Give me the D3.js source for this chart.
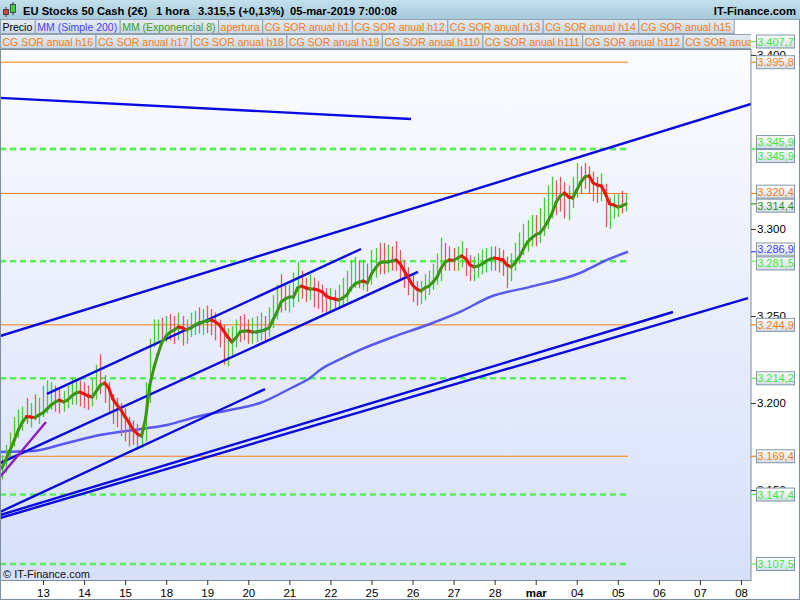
<!DOCTYPE html>
<html><head><meta charset="utf-8">
<script src="https://cdn.jsdelivr.net/npm/d3@7"></script>
<style>
body{margin:0;background:#fff;}
svg text{font-family:"Liberation Sans",Arial,sans-serif;}
</style>
</head><body>
<svg id="c" width="800" height="600"></svg>
<script>
// ---------------- DATA ----------------
const dayLabels = ["13","14","15","18","19","20","21","22","25","26","27","28","mar","04","05","06","07","08"];
const boldDayLabels = ["mar"];
const barStartDay = -1, barStepDay = 0.1;
const emaValues = [3162.6,3167.8,3173.0,3178.7,3184.5,3189.1,3192.2,3191.9,3191.6,3193.1,
3194.3,3196.6,3198.9,3200.6,3201.7,3200.6,3201.7,3204.0,3205.7,3206.3,
3205.2,3204.0,3203.4,3206.9,3210.3,3211.5,3208.6,3202.3,3198.9,3196.0,
3192.0,3188.5,3184.5,3182.2,3181.0,3191.4,3210.3,3220.1,3228.2,3235.1,
3238.5,3240.8,3242.0,3243.7,3243.1,3242.0,3243.1,3244.8,3246.0,3246.6,
3247.1,3247.7,3246.6,3244.8,3241.4,3237.9,3235.1,3237.4,3240.8,3241.4,
3241.4,3240.8,3240.8,3241.4,3242.0,3243.1,3247.7,3252.3,3258.0,3259.8,
3260.9,3260.9,3266.1,3267.2,3266.1,3265.5,3265.5,3264.9,3263.8,3261.5,
3260.3,3259.8,3259.2,3260.3,3262.1,3266.1,3268.4,3269.5,3270.1,3269.0,
3274.1,3277.6,3280.5,3281.0,3281.0,3281.6,3282.2,3279.9,3275.9,3271.8,
3267.8,3265.5,3264.4,3266.1,3267.2,3269.5,3272.4,3277.6,3281.0,3282.2,
3282.0,3283.3,3284.5,3282.8,3279.3,3278.2,3278.7,3279.9,3281.6,3282.8,
3283.3,3282.8,3282.2,3279.3,3278.2,3280.5,3283.9,3288.5,3292.5,3294.8,
3296.6,3297.7,3300.6,3304.6,3309.2,3315.5,3319.0,3320.7,3318.4,3317.8,
3322.4,3327.0,3329.9,3330.5,3326.4,3325.3,3324.7,3320.1,3314.4,3313.8,
3312.6,3313.2,3314.4];
const highs = [3170,3176,3183,3192,3196,3198,3203,3200,3205,3203,
3210,3213,3212,3210,3208,3207,3210,3214,3214,3213,
3212,3210,3214,3222,3228,3216,3212,3205,3203,3200,
3197,3192,3190,3188,3186,3212,3237,3248,3248,3249,
3250,3251,3250,3252,3250,3248,3252,3253,3255,3254,
3256,3254,3252,3248,3245,3243,3244,3248,3250,3251,
3248,3249,3250,3252,3250,3255,3262,3268,3274,3268,
3268,3275,3281,3276,3272,3274,3272,3270,3268,3266,
3266,3265,3268,3272,3276,3282,3284,3282,3282,3280,
3288,3289,3292,3292,3291,3290,3293,3288,3282,3278,
3274,3270,3270,3274,3276,3280,3286,3295,3292,3290,
3289,3290,3293,3289,3285,3284,3286,3288,3289,3290,
3290,3289,3288,3284,3286,3292,3298,3303,3305,3308,
3308,3312,3318,3325,3330,3328,3330,3327,3325,3330,
3338,3336,3338,3336,3333,3330,3332,3326,3318,3320,
3320,3322,3320];
const lows = [3156,3160,3168,3175,3180,3184,3188,3186,3190,3188,
3192,3194,3196,3195,3194,3195,3197,3199,3199,3198,
3197,3196,3198,3202,3205,3200,3195,3188,3186,3181,
3178,3175,3176,3173,3174,3178,3200,3232,3236,3236,
3235,3236,3234,3236,3233,3234,3238,3239,3240,3239,
3240,3239,3236,3232,3222,3221,3226,3232,3235,3236,
3234,3234,3235,3236,3235,3238,3243,3248,3252,3253,
3252,3255,3258,3260,3258,3259,3255,3254,3252,3252,
3253,3253,3254,3256,3258,3264,3266,3266,3265,3264,
3268,3272,3274,3274,3275,3276,3276,3270,3266,3262,
3258,3256,3257,3259,3262,3265,3268,3270,3276,3276,
3276,3276,3278,3273,3270,3270,3272,3274,3275,3276,
3276,3275,3273,3266,3270,3276,3280,3285,3287,3290,
3290,3292,3296,3300,3306,3308,3310,3306,3305,3312,
3318,3320,3323,3320,3316,3315,3316,3301,3300,3306,
3307,3309,3310];
const closes = [3166,3172,3180,3188,3190,3194,3193,3195,3193,3196,
3200,3203,3205,3202,3199,3203,3207,3208,3208,3204,
3203,3202,3212,3215,3212,3203,3198,3192,3190,3187,
3184,3180,3179,3178,3184,3208,3232,3244,3245,3241,
3246,3240,3238,3247,3238,3240,3248,3250,3246,3249,
3244,3243,3238,3235,3230,3234,3240,3245,3243,3240,
3238,3242,3243,3245,3244,3250,3258,3264,3262,3257,
3258,3270,3272,3265,3264,3268,3262,3260,3258,3257,
3260,3258,3264,3268,3272,3275,3278,3271,3272,3268,
3283,3284,3283,3281,3283,3282,3280,3272,3268,3265,
3262,3260,3266,3270,3272,3276,3282,3288,3285,3284,
3281,3285,3287,3277,3274,3277,3280,3283,3284,3284,
3282,3281,3278,3272,3282,3288,3293,3298,3300,3302,
3300,3306,3312,3318,3325,3324,3320,3312,3316,3326,
3335,3332,3330,3325,3322,3320,3326,3305,3312,3314,
3316,3315,3315.5];
const smaDays = [-1.047,-0.244,0.585,1.388,2.192,3.020,3.824,4.554,5.285,6.089,6.503,6.746,7.306,7.720,8.524,9.352,10.156,10.886,11.861,13.078,13.736,14.247];
const smaValues = [3171.8,3172.4,3177.0,3181.6,3184.5,3187.4,3192.5,3196.0,3200.0,3209.2,3214.4,3219.0,3225.9,3230.5,3237.9,3244.8,3252.3,3260.9,3266.7,3274.7,3282.2,3286.9];
// trend lines: [startDay, startPrice, endDay, endPrice]
const blueTrendLines = [
  [-1.047,3375.3, 8.962,3363.2],
  [-1.047,3238.5,17.243,3371.8],
  [0.097,3205.2, 7.745,3288.5],
  [-1.047,3165.5, 9.133,3275.3],
  [-1.047,3137.4, 5.407,3208.0],
  [-1.047,3135.6,15.343,3252.3],
  [-1.047,3133.9,17.170,3260.3]
];
const purpleTrendLines = [[-1.047,3157.5, 0.073,3189.1]];
const greenLevels = [3407.7,3345.9,3345.9,3281.5,3214.2,3147.4,3107.5];
const orangeLevels = [3395.8,3320.4,3244.9,3169.4];
const priceTicks = [3150,3200,3250,3300,3400];
const legendRow1 = ["Precio","MM (Simple 200)","MM (Exponencial 8)","apertura","CG SOR anual h1","CG SOR anual h12","CG SOR anual h13","CG SOR anual h14","CG SOR anual h15"];
const legendRow2 = ["CG SOR anual h16","CG SOR anual h17","CG SOR anual h18","CG SOR anual h19","CG SOR anual h110","CG SOR anual h111","CG SOR anual h112","CG SOR anual h113"];
const titleParts = ["EU Stocks 50 Cash (2€)","1 hora","3.315,5 (+0,13%)","05-mar-2019 7:00:08"];
const siteName = "IT-Finance.com";
const copyright = "© IT-Finance.com";

// ---------------- STYLE ----------------
const C = {
  greenLvl:"#55f055", greenTxt:"#3ee83e", orange:"#f57f17", emaUp:"#3a9614", emaDn:"#f21010",
  barUp:"#48c83a", barDn:"#de5a5a", sma:"#4040f0", trend:"#0a0ae0", purple:"#8a22c2",
  blueTxt:"#4444ff", emaTxt:"#2f8f1f", frame:"#7d8e9c"
};
const loc = d3.formatLocale({decimal:",", thousands:".", grouping:[3], currency:["","€"]});
const fmtLbl = loc.format(",.1f"), fmtTick = loc.format(",.0f");

const svg = d3.select("#c");
const P = {l:0, t:49, r:751, b:580};
const x = d3.scaleLinear().domain([-1.0472,17.243]).range([P.l,P.r]);
const y = d3.scaleLinear().domain([3098.3,3403.4]).range([P.b,P.t]);

const defs = svg.append("defs");
function vgrad(id, stops){
  const g = defs.append("linearGradient").attr("id",id).attr("x1",0).attr("y1",0).attr("x2",0).attr("y2",1);
  stops.forEach(s=>g.append("stop").attr("offset",s[0]).attr("stop-color",s[1]));
}
vgrad("plotBg",[[0,"#fbfcff"],[0.5,"#e9eefc"],[1,"#d6e0fa"]]);
vgrad("titleBg",[[0,"#c3e0ec"],[1,"#a6cadb"]]);
vgrad("legBg",[[0,"#e6edf3"],[1,"#c9d6e1"]]);
vgrad("lblBg",[[0,"#ffffff"],[1,"#d2dce6"]]);
defs.append("clipPath").attr("id","plotClip").append("rect")
  .attr("x",P.l).attr("y",P.t).attr("width",P.r-P.l).attr("height",P.b-P.t);
defs.append("clipPath").attr("id","legClip").append("rect")
  .attr("x",0).attr("y",19).attr("width",P.r).attr("height",30);

svg.append("rect").attr("width",800).attr("height",600).attr("fill","#fff");
svg.append("rect").attr("x",P.l).attr("y",P.t).attr("width",P.r-P.l).attr("height",P.b-P.t).attr("fill","url(#plotBg)");

const plot = svg.append("g").attr("clip-path","url(#plotClip)");
const barDay = i => barStartDay + i*barStepDay;
const lastDay = barDay(emaValues.length-1) + 0.05;

// horizontal levels
plot.selectAll(".ol").data(orangeLevels).join("line")
  .attr("x1",x(barDay(0)-0.05)).attr("x2",x(lastDay)).attr("y1",d=>y(d)).attr("y2",d=>y(d))
  .attr("stroke",C.orange).attr("stroke-width",1);
plot.selectAll(".gl").data(greenLevels).join("line")
  .attr("x1",x(barDay(0)-0.05)).attr("x2",x(lastDay)).attr("y1",d=>y(d)).attr("y2",d=>y(d))
  .attr("stroke",C.greenLvl).attr("stroke-width",2.5).attr("stroke-dasharray","6,4");

// SMA 200
plot.append("path").datum(smaDays.map((d,i)=>[d,smaValues[i]]))
  .attr("d",d3.line().x(d=>x(d[0])).y(d=>y(d[1])).curve(d3.curveMonotoneX))
  .attr("fill","none").attr("stroke",C.sma).attr("stroke-width",2.5).attr("stroke-opacity",0.85);

// price bars
plot.selectAll(".bar").data(emaValues.map((e,i)=>i)).join("line")
  .attr("x1",i=>Math.round(x(barDay(i)))+0.5).attr("x2",i=>Math.round(x(barDay(i)))+0.5)
  .attr("y1",i=>y(highs[i])).attr("y2",i=>y(lows[i]))
  .attr("stroke",i=> (i===0 || closes[i]>=closes[i-1]) ? C.barUp : C.barDn)
  .attr("stroke-width",1.3);

// trend lines
plot.selectAll(".tl").data(blueTrendLines).join("line")
  .attr("x1",d=>x(d[0])).attr("y1",d=>y(d[1])).attr("x2",d=>x(d[2])).attr("y2",d=>y(d[3]))
  .attr("stroke",C.trend).attr("stroke-width",2.4);
plot.selectAll(".pl").data(purpleTrendLines).join("line")
  .attr("x1",d=>x(d[0])).attr("y1",d=>y(d[1])).attr("x2",d=>x(d[2])).attr("y2",d=>y(d[3]))
  .attr("stroke",C.purple).attr("stroke-width",2.4);

// EMA 8 (green rising / red falling)
plot.selectAll(".ema").data(d3.range(1,emaValues.length)).join("line")
  .attr("x1",i=>x(barDay(i-1))).attr("y1",i=>y(emaValues[i-1]))
  .attr("x2",i=>x(barDay(i))).attr("y2",i=>y(emaValues[i]))
  .attr("stroke",i=>emaValues[i]>=emaValues[i-1]?C.emaUp:C.emaDn)
  .attr("stroke-width",3).attr("stroke-linecap","round");

svg.append("text").attr("x",3).attr("y",578).attr("font-size",11).attr("fill","#111").text(copyright);

// plot frame
svg.append("rect").attr("x",P.l+0.5).attr("y",P.t+0.5).attr("width",P.r-P.l-0.5).attr("height",P.b-P.t)
  .attr("fill","none").attr("stroke",C.frame);

// bottom axis
const xa = svg.append("g").attr("transform",`translate(0,${P.b})`)
  .call(d3.axisBottom(x).tickValues(d3.range(dayLabels.length)).tickFormat(i=>dayLabels[i]).tickSize(5).tickPadding(4));
xa.select(".domain").remove();
xa.selectAll("line").attr("stroke","#333");
xa.selectAll("text").attr("font-size",11.5).attr("fill","#000").attr("font-family","Liberation Sans, Arial, sans-serif")
  .attr("font-weight",(i)=>boldDayLabels.includes(dayLabels[i])?"bold":"normal");

// right axis
const ya = svg.append("g").attr("transform",`translate(${P.r},0)`)
  .call(d3.axisRight(y).tickValues(priceTicks).tickFormat(fmtTick).tickSize(5).tickPadding(1));
ya.select(".domain").remove();
ya.selectAll("line").attr("stroke","#333");
ya.selectAll("text").attr("font-size",11.5).attr("fill","#000").attr("font-family","Liberation Sans, Arial, sans-serif");

// value labels on the right axis
const labels = [];
greenLevels.forEach(v=>labels.push({v, col:C.greenTxt, tick:C.greenLvl}));
orangeLevels.forEach(v=>labels.push({v, col:C.orange, tick:C.orange}));
labels.push({v:emaValues[emaValues.length-1], col:C.emaTxt, tick:C.emaTxt});
labels.push({v:smaValues[smaValues.length-1], col:C.blueTxt, tick:C.blueTxt});
labels.forEach(d=>d.want=y(d.v));
labels.sort((a,b)=>a.want-b.want);
const LH = 14;
let clusters = labels.map(d=>({items:[d]}));
function place(c){ const m=d3.mean(c.items,d=>d.want); c.top = m-(c.items.length-1)*LH/2; }
clusters.forEach(place);
let changed=true;
while(changed){
  changed=false;
  for(let k=0;k<clusters.length-1;k++){
    const a=clusters[k], b=clusters[k+1];
    if(a.top+a.items.length*LH > b.top){ a.items=a.items.concat(b.items); place(a); clusters.splice(k+1,1); changed=true; break; }
  }
}
clusters.forEach(c=>c.items.forEach((d,k)=>d.cy=c.top+k*LH));
const lg = svg.append("g");
labels.forEach(d=>{
  lg.append("line").attr("x1",P.r).attr("x2",P.r+5).attr("y1",d.want).attr("y2",d.want).attr("stroke",d.tick).attr("stroke-width",1.2);
  lg.append("rect").attr("x",756.5).attr("y",d.cy-6.5).attr("width",38).attr("height",13)
    .attr("fill","url(#lblBg)").attr("stroke","#7f96a8");
  lg.append("text").attr("x",775.5).attr("y",d.cy+4).attr("text-anchor","middle").attr("font-size",11)
    .attr("fill",d.col).text(fmtLbl(d.v));
});

// title bar
svg.append("rect").attr("x",0).attr("y",0).attr("width",800).attr("height",19).attr("fill","url(#titleBg)");
svg.append("line").attr("x1",0).attr("x2",800).attr("y1",19.5).attr("y2",19.5).attr("stroke","#8aa0b0");
const ic = svg.append("g");
ic.append("line").attr("x1",6).attr("x2",6).attr("y1",7).attr("y2",17).attr("stroke","#333");
ic.append("rect").attr("x",3.5).attr("y",9.5).attr("width",5).attr("height",5).attr("fill","#e23a3a").attr("stroke","#333").attr("stroke-width",0.8);
ic.append("line").attr("x1",13).attr("x2",13).attr("y1",2).attr("y2",15).attr("stroke","#333");
ic.append("rect").attr("x",10.5).attr("y",4.5).attr("width",5).attr("height",8).attr("fill","#3fd13f").attr("stroke","#333").attr("stroke-width",0.8);
const titleX = [23,156,198,290];
titleParts.forEach((t,i)=>svg.append("text").attr("x",titleX[i]).attr("y",14.5).attr("font-size",11.2).attr("font-weight","bold").attr("fill","#000").text(t));
svg.append("text").attr("x",796).attr("y",14.5).attr("text-anchor","end").attr("font-size",11.3).attr("font-weight","bold").attr("fill","#000").text(siteName);

// legend rows
const legG = svg.append("g").attr("clip-path","url(#legClip)");
function legendRow(items, top){
  let cx = 0;
  items.forEach(t=>{
    const g = legG.append("g");
    const r = g.append("rect").attr("y",top+0.5).attr("height",14).attr("fill","url(#legBg)").attr("stroke","#8ea2b2");
    const col = t==="Precio" ? "#000" : t.startsWith("MM (S") ? "#4646ff" : t.startsWith("MM (E") ? "#3f9e1e" : C.orange;
    const tx = g.append("text").attr("x",cx+2.5).attr("y",top+11.5).attr("font-size",10.5).attr("fill",col).text(t);
    const w = tx.node().getComputedTextLength()+5;
    r.attr("x",cx+0.5).attr("width",w);
    cx += w;
  });
}
legendRow(legendRow1,19);
legendRow(legendRow2,34);

// outer frame
svg.append("line").attr("x1",799.5).attr("x2",799.5).attr("y1",19).attr("y2",600).attr("stroke",C.frame);
svg.append("line").attr("x1",0.5).attr("x2",0.5).attr("y1",P.b).attr("y2",600).attr("stroke",C.frame);
svg.append("line").attr("x1",0).attr("x2",800).attr("y1",599.5).attr("y2",599.5).attr("stroke",C.frame);
</script>
</body></html>
